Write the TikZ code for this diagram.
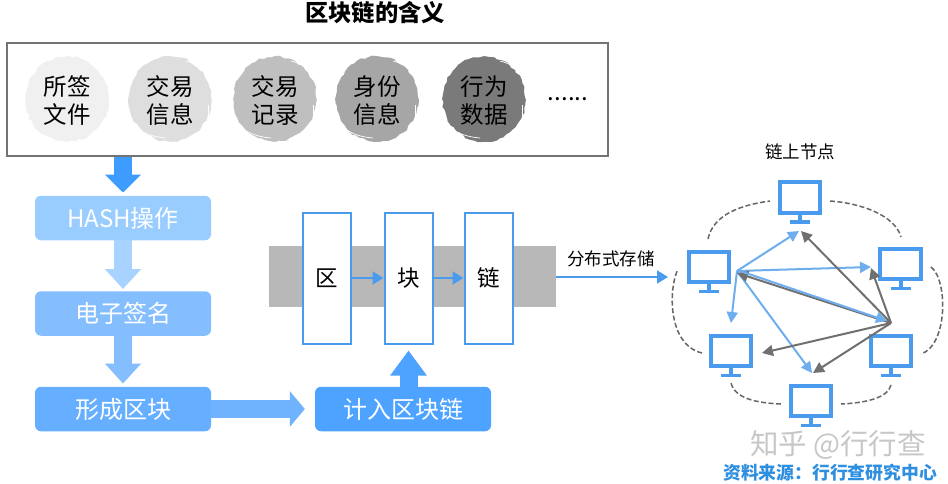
\documentclass[tikz,border=0pt]{standalone}
\usepackage{fontspec}
\setmainfont{Noto Sans CJK SC}
\usetikzlibrary{arrows.meta,calc,decorations.pathmorphing,shapes.geometric}
\definecolor{cblue}{HTML}{4A9BEE}
\definecolor{ltarrow}{HTML}{6FAEEE}
\definecolor{grayarrow}{HTML}{707070}
\definecolor{HashC}{HTML}{99CCFF}
\definecolor{SignC}{HTML}{85BEFF}
\definecolor{FormC}{HTML}{66AEFF}
\definecolor{RecC}{HTML}{4DA3FF}
\definecolor{Arr1}{HTML}{3F9CFF}
\definecolor{Arr2}{HTML}{A8D2FF}
\definecolor{Arr3}{HTML}{85BEFF}
\definecolor{Arr4}{HTML}{6FB3FF}
\definecolor{BlueSrc}{HTML}{2E8FE0}
\tikzset{
  px/.style={font=\fontsize{#1}{#1}\selectfont},
  flowbox/.style={rounded corners=6pt,minimum width=176pt,minimum height=44.5pt,inner sep=0pt,text=white,px=24},
  blockarrow/.style={line width=18pt,-{Triangle[length=#1,width=35pt]}},
  brush/.style={draw=none,ellipse,minimum width=83pt,minimum height=85pt,inner sep=0pt,
     decorate,decoration={random steps,segment length=4pt,amplitude=1.1pt}},
  brushtext/.style={px=23.5,align=center,inner sep=0pt},
  streak/.style={draw=white,line width=0.7pt},
  chainbox/.style={draw=cblue,line width=2pt,fill=white,minimum width=48pt,minimum height=131pt,inner sep=0pt,px=22.5},
  monitor/.style={draw=cblue,line width=3.6pt,fill=white,minimum width=40.5pt,minimum height=30.5pt,inner sep=0pt},
  linkl/.style={draw=ltarrow,line width=2pt,-{Triangle[length=11pt,width=11pt]}},
  linkg/.style={draw=grayarrow,line width=2pt,-{Triangle[length=11pt,width=11pt]}},
  thinarrow/.style={draw=cblue,line width=2pt,-{Triangle[length=11pt,width=13pt]}},
  ring/.style={draw=black!60,line width=1.5pt,dash pattern=on 5pt off 2.5pt},
}
\newcommand{\mon}[3]{%
  \node[monitor] (#1) at (#2,#3) {};
  \fill[cblue] ($(#1.south)+(-2pt,0pt)$) rectangle ($(#1.south)+(2pt,-6pt)$);
  \fill[cblue] ($(#1.south)+(-10pt,-5.5pt)$) rectangle ($(#1.south)+(10pt,-9pt)$);
}
\begin{document}
\begin{tikzpicture}[x=1pt,y=-1pt]
\useasboundingbox (0,0) rectangle (948,484);
\fill[white] (0,0) rectangle (948,484);
\node[font=\fontsize{23.3}{23}\selectfont\bfseries] (title) at (375,13) {区块链的含义};
\node[draw=black!55,line width=1.8pt,minimum width=601pt,minimum height=113pt,inner sep=0pt] (src) at (307.5,99.5) {};
\node[brush,fill=black!6] (c1) at (67,99) {};
\node[brush,fill=black!13] (c2) at (170,99) {};
\node[brush,fill=black!25] (c3) at (275,99) {};
\node[brush,fill=black!35] (c4) at (377,99) {};
\node[brush,fill=black!52] (c5) at (484,99) {};
\foreach \c in {c2,c3,c4,c5}{
  \draw[streak] ($(\c)+(36,-24)$) .. controls ($(\c)+(31,-32)$) and ($(\c)+(25,-36)$) .. ($(\c)+(16,-38)$);
  \draw[streak] ($(\c)+(-34,28)$) .. controls ($(\c)+(-26,35)$) and ($(\c)+(-16,38)$) .. ($(\c)+(-4,39)$);
  \draw[streak] ($(\c)+(38,6)$) -- ($(\c)+(38,20)$);
}
\node[brushtext] (t1) at (67,103) {\strut 所签\\[0.5pt]\strut 文件};
\node[brushtext] (t2) at (170,103) {\strut 交易\\[0.5pt]\strut 信息};
\node[brushtext] (t3) at (275,103) {\strut 交易\\[0.5pt]\strut 记录};
\node[brushtext] (t4) at (377,103) {\strut 身份\\[0.5pt]\strut 信息};
\node[brushtext] (t5) at (484,103) {\strut 行为\\[0.5pt]\strut 数据};
\node[px=24] (dots) at (568,99) {......};

\node[flowbox,fill=HashC] (hash) at (123,218) {HASH操作};
\node[flowbox,fill=SignC] (sign) at (123,313.5) {电子签名};
\node[flowbox,fill=FormC] (form) at (123,409) {形成区块};
\node[flowbox,fill=RecC] (rec) at (403,409) {计入区块链};
\draw[blockarrow=18pt,draw=Arr1] (src.south -| hash.north) -- ([yshift=3pt]hash.north);
\draw[blockarrow=20pt,draw=Arr2] (hash.south) -- ([yshift=2pt]sign.north);
\draw[blockarrow=20pt,draw=Arr3] (sign.south) -- ([yshift=3pt]form.north);
\draw[blockarrow=15pt,draw=Arr4] (form.east) -- ([xshift=-10pt]rec.west);
\fill[black!28] (269,246) rectangle (556,307);
\node[chainbox] (qu) at (326.5,278) {区};
\node[chainbox] (kuai) at (408.5,278) {块};
\node[chainbox] (lian) at (488.5,278) {链};
\draw[blockarrow=25pt,draw=RecC] (kuai.south |- rec.north) -- ([yshift=-6pt]kuai.south);
\draw[thinarrow] (qu.east) -- (kuai.west);
\draw[thinarrow] (kuai.east) -- (lian.west);
\coordinate (bandend) at (556,277);
\mon{left}{709}{267}
\node[px=17.5] (store) at (611,259) {分布式存储};
\coordinate (storeend) at (668,277);
\draw[thinarrow] (bandend) -- (storeend);

\node[px=17.5] (nodes) at (800,152) {链上节点};
\mon{top}{800}{197.5}
\mon{right}{900.5}{264}
\mon{ll}{731}{351}
\mon{lr}{891}{351}
\mon{bottom}{811}{401}

\coordinate (A) at (737,271);
\coordinate (B) at (891,323);
\coordinate (At) at (799,231);
\coordinate (Ar) at (871,267);
\coordinate (Al) at (731,323);
\coordinate (Ab) at (812,373);
\coordinate (AB) at (887,323);
\coordinate (Bt) at (801,231);
\coordinate (Br) at (871,268);
\coordinate (Ba) at (737,273);
\coordinate (Bl) at (762,353);
\coordinate (Bb) at (813,373);
\draw[linkl] (A) -- (At);
\draw[linkl] (A) -- (Ar);
\draw[linkl] (A) -- (Al);
\draw[linkl] (A) -- (Ab);
\draw[linkg] (B) -- (Bt);
\draw[linkg] (B) -- (Br);
\draw[linkg] (B) -- (Ba);
\draw[linkg] (B) -- (Bl);
\draw[linkg] (B) -- (Bb);
\draw[linkl] ($(A)+(0,-1)$) -- ($(AB)+(0,-2)$);

\coordinate (r1a) at (708,239); \coordinate (r1b) at (770,201);
\coordinate (r2a) at (830,201); \coordinate (r2b) at (901,237);
\coordinate (r3a) at (931,267); \coordinate (r3b) at (921,354);
\coordinate (r4a) at (891,385); \coordinate (r4b) at (841,404);
\coordinate (r5a) at (781,404); \coordinate (r5b) at (731,383);
\coordinate (r6a) at (702,353); \coordinate (r6b) at (678,269);
\draw[ring] (r1a) .. controls (713,215) and (740,205) .. (r1b);
\draw[ring] (r2a) .. controls (860,203) and (895,215) .. (r2b);
\draw[ring] (r3a) .. controls (948,280) and (948,345) .. (r3b);
\draw[ring] (r4a) .. controls (888,398) and (865,403) .. (r4b);
\draw[ring] (r5a) .. controls (755,403) and (735,398) .. (r5b);
\draw[ring] (r6a) .. controls (668,345) and (668,290) .. (r6b);

\node[px=28.5,text=black!22] (mark) at (838,445) {知乎 @行行查};
\node[font=\fontsize{17.8}{18}\selectfont\bfseries,text=BlueSrc] (source) at (830,472.5) {资料来源：行行查研究中心};
\end{tikzpicture}
\end{document}
